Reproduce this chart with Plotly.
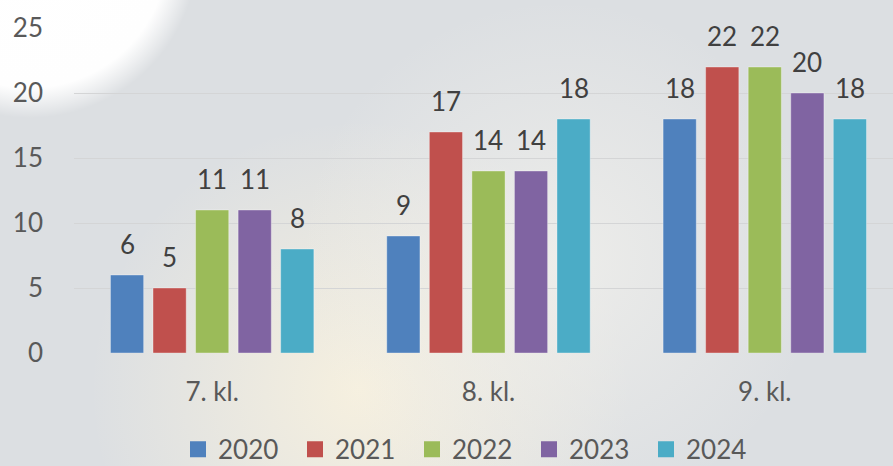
import base64
import plotly.graph_objects as go

categories = ["7. kl.", "8. kl.", "9. kl."]
years = ["2020", "2021", "2022", "2023", "2024"]
values = {
    "2020": [6, 9, 18],
    "2021": [5, 17, 22],
    "2022": [11, 14, 22],
    "2023": [11, 14, 20],
    "2024": [8, 18, 18],
}
colors = ["#4f81bd", "#c0504d", "#9bbb59", "#8064a2", "#4bacc6"]
y_ticks = [0, 5, 10, 15, 20, 25]

FONT = "Lato, 'Open Sans', sans-serif"
W, H = 893, 466
ML, MR, MT, MB = 74, 0, 28, 113
X_RANGE = [-0.5, 2.464]
BARGAP = 0.23
BARGROUPGAP = 0.22

svg = """<svg xmlns='http://www.w3.org/2000/svg' width='893' height='466'>
<defs>
<radialGradient id='w' gradientUnits='userSpaceOnUse' cx='30' cy='-50' r='168'>
<stop offset='0' stop-color='#ffffff' stop-opacity='1'/>
<stop offset='0.82' stop-color='#fefefe' stop-opacity='1'/>
<stop offset='1' stop-color='#ffffff' stop-opacity='0'/>
</radialGradient>
<radialGradient id='c' gradientUnits='userSpaceOnUse' cx='360' cy='390' r='270'>
<stop offset='0' stop-color='#f6f0df' stop-opacity='1'/>
<stop offset='1' stop-color='#f6f0df' stop-opacity='0'/>
</radialGradient>
<radialGradient id='c2' gradientUnits='userSpaceOnUse' cx='560' cy='260' r='260'>
<stop offset='0' stop-color='#f1f0ec' stop-opacity='0.8'/>
<stop offset='1' stop-color='#f1f0ec' stop-opacity='0'/>
</radialGradient>
</defs>
<rect width='893' height='466' fill='#dcdfe2'/>
<rect width='893' height='466' fill='url(#c)'/>
<rect width='893' height='466' fill='url(#c2)'/>
<rect width='893' height='466' fill='url(#w)'/>
</svg>"""
bg_uri = "data:image/svg+xml;base64," + base64.b64encode(svg.encode()).decode()

plot_w = W - ML - MR
plot_h = H - MT - MB
cat_px = plot_w / (X_RANGE[1] - X_RANGE[0])
slot_px = cat_px * (1 - BARGAP) / len(years)

fig = go.Figure()
annotations = []
for i, (year, color) in enumerate(zip(years, colors)):
    fig.add_trace(go.Bar(
        name=year,
        x=categories,
        y=values[year],
        marker=dict(color=color, line=dict(color="rgba(255,255,255,0.35)", width=1)),
        showlegend=False,
    ))
    # legend entry with a larger square symbol
    fig.add_trace(go.Scatter(
        name=year,
        x=[None], y=[None],
        mode="markers",
        marker=dict(symbol="square", size=16, color=color),
        showlegend=True,
        hoverinfo="skip",
    ))
    for cat, v in zip(categories, values[year]):
        annotations.append(dict(
            x=cat, y=v, xref="x", yref="y",
            text=str(v), showarrow=False,
            xshift=(i - (len(years) - 1) / 2) * slot_px,
            yanchor="bottom", yshift=13,
            font=dict(family=FONT, size=26, color="#404040"),
        ))

fig.update_layout(
    width=W,
    height=H,
    margin=dict(l=ML, r=MR, t=MT, b=MB, autoexpand=False),
    paper_bgcolor="#dcdfe2",
    plot_bgcolor="rgba(0,0,0,0)",
    barmode="group",
    bargap=BARGAP,
    bargroupgap=BARGROUPGAP,
    font=dict(family=FONT, size=26, color="#595959"),
    annotations=annotations,
    images=[dict(source=bg_uri, xref="paper", yref="paper", x=-ML/plot_w, y=1 + MT/plot_h,
                 sizex=W/plot_w, sizey=H/plot_h, xanchor="left", yanchor="top",
                 sizing="stretch", layer="below")],
    xaxis=dict(
        range=X_RANGE,
        showgrid=False,
        showline=False,
        ticks="",
        ticklabelstandoff=21,
        tickfont=dict(family=FONT, size=26, color="#595959"),
    ),
    yaxis=dict(
        range=[0, 25],
        tickvals=y_ticks,
        showgrid=True,
        gridcolor="#d4d5d6",
        gridwidth=1,
        zeroline=False,
        showline=False,
        ticks="",
        ticklabelstandoff=30,
        tickfont=dict(family=FONT, size=26, color="#595959"),
    ),
    showlegend=True,
    legend=dict(
        orientation="h",
        xanchor="left",
        x=(178 - ML) / plot_w,
        yanchor="top",
        y=-0.224,
        font=dict(family=FONT, size=26, color="#595959"),
        bgcolor="rgba(0,0,0,0)",
        entrywidth=72,
        entrywidthmode="pixels",
        itemwidth=30,
        traceorder="normal",
    ),
)

fig.write_html("out.html", config={"displayModeBar": False},
               post_script="document.body.style.margin='0';")
